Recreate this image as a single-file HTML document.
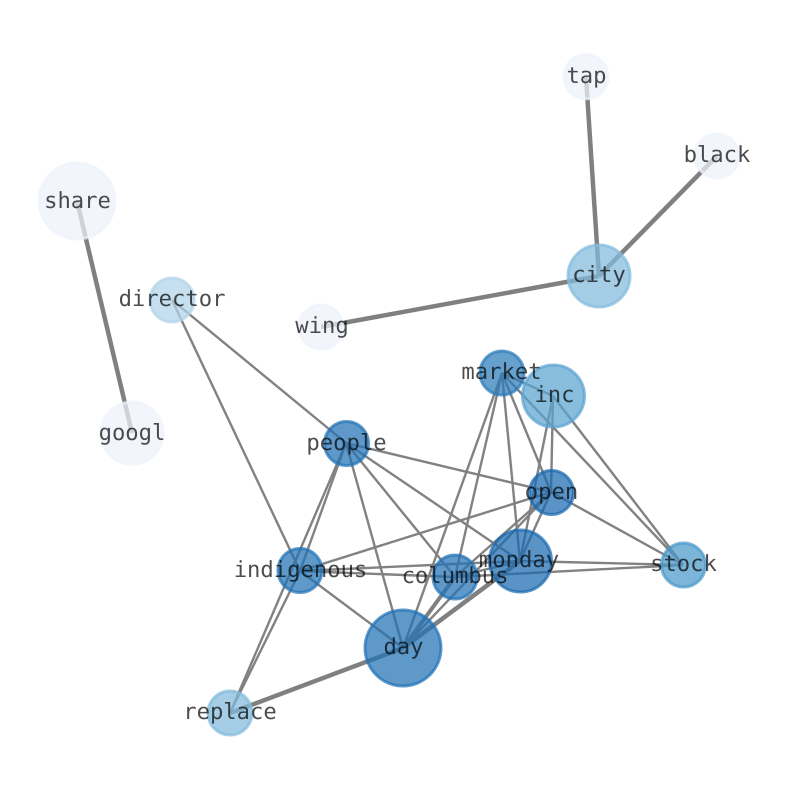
<!DOCTYPE html>
<html><head><meta charset="utf-8"><style>
html,body{margin:0;padding:0;background:#fff}
svg{display:block}
text{font-family:"DejaVu Sans Mono","Liberation Mono",monospace;font-size:22.2px;text-anchor:middle;fill:#000;fill-opacity:.7;text-rendering:geometricPrecision}
line{stroke:#808080;stroke-linecap:butt}
.t{stroke-width:2.4;stroke-opacity:.98}
circle{stroke-width:3}
</style></head><body>
<svg width="794" height="790" viewBox="0 0 794 790" xmlns="http://www.w3.org/2000/svg">
<g class="edges">
<line x1="586" y1="77" x2="599" y2="276" stroke-width="4.5"/>
<line x1="717" y1="156" x2="599" y2="276" stroke-width="4.5"/>
<line x1="321" y1="327" x2="599" y2="276" stroke-width="4.5"/>
<line x1="77" y1="201" x2="132" y2="433" stroke-width="4.5"/>
<line x1="403" y1="648" x2="230" y2="713" stroke-width="4.5"/>
<line x1="403" y1="648" x2="520" y2="561" stroke-width="4.5"/>
<line x1="403" y1="648" x2="455" y2="577" stroke-width="4"/>
<g class="t">
<line class="t" x1="172" y1="300" x2="346" y2="443"/>
<line class="t" x1="172" y1="300" x2="300" y2="571"/>
<line class="t" x1="346" y1="443" x2="300" y2="571"/>
<line class="t" x1="346" y1="443" x2="230" y2="713"/>
<line class="t" x1="300" y1="571" x2="230" y2="713"/>
<line class="t" x1="346" y1="443" x2="403" y2="648"/>
<line class="t" x1="346" y1="443" x2="455" y2="577"/>
<line class="t" x1="346" y1="443" x2="520" y2="561"/>
<line class="t" x1="346" y1="443" x2="551" y2="492"/>
<line class="t" x1="300" y1="571" x2="551" y2="492"/>
<line class="t" x1="300" y1="571" x2="520" y2="561"/>
<line class="t" x1="300" y1="571" x2="455" y2="577"/>
<line class="t" x1="300" y1="571" x2="403" y2="648"/>
<line class="t" x1="502" y1="373" x2="403" y2="648"/>
<line class="t" x1="502" y1="373" x2="455" y2="577"/>
<line class="t" x1="502" y1="373" x2="520" y2="561"/>
<line class="t" x1="502" y1="373" x2="551" y2="492"/>
<line class="t" x1="502" y1="373" x2="553" y2="396"/>
<line class="t" x1="502" y1="373" x2="683" y2="565"/>
<line class="t" x1="553" y1="396" x2="520" y2="561"/>
<line class="t" x1="553" y1="396" x2="551" y2="492"/>
<line class="t" x1="553" y1="396" x2="683" y2="565"/>
<line class="t" x1="551" y1="492" x2="683" y2="565"/>
<line class="t" x1="551" y1="492" x2="520" y2="561"/>
<line class="t" x1="551" y1="492" x2="455" y2="577"/>
<line class="t" x1="551" y1="492" x2="403" y2="648"/>
<line class="t" x1="520" y1="561" x2="683" y2="565"/>
<line class="t" x1="520" y1="561" x2="455" y2="577"/>
<line class="t" x1="455" y1="577" x2="683" y2="565"/>
</g>
</g>
<g fill-opacity=".72" stroke-opacity=".72">
<circle cx="586" cy="76.700" r="22" fill="#edf3fb" stroke="#edf3fb"/>
<circle cx="717" cy="156" r="22" fill="#edf3fb" stroke="#edf3fb"/>
<circle cx="321" cy="327" r="22" fill="#edf3fb" stroke="#edf3fb"/>
<circle cx="77" cy="201" r="38" fill="#edf3fb" stroke="#edf3fb"/>
<circle cx="132" cy="433" r="31" fill="#edf3fb" stroke="#edf3fb"/>
<circle cx="172" cy="300" r="22" fill="#b2d4e9" stroke="#b2d4e9"/>
<circle cx="230" cy="713" r="22" fill="#82bbdc" stroke="#82bbdc"/>
<circle cx="599" cy="276" r="31" fill="#82bbdc" stroke="#82bbdc"/>
<circle cx="553.500" cy="396" r="31" fill="#5aa3d0" stroke="#5aa3d0"/>
<circle cx="683.500" cy="565" r="22" fill="#4a98c9" stroke="#4a98c9"/>
<circle cx="502" cy="373" r="22" fill="#2b7bba" stroke="#2b7bba"/>
<circle cx="346.500" cy="443.500" r="22" fill="#2171b5" stroke="#2171b5"/>
<circle cx="300" cy="570.500" r="22" fill="#2171b5" stroke="#2171b5"/>
<circle cx="455" cy="577" r="22" fill="#2171b5" stroke="#2171b5"/>
<circle cx="551.500" cy="492.500" r="22" fill="#1b69af" stroke="#1b69af"/>
<circle cx="520.500" cy="561" r="31" fill="#1b69af" stroke="#1b69af"/>
<circle cx="403" cy="648" r="38" fill="#2171b5" stroke="#2171b5"/>
</g>
<g>
<text x="586.500" y="83">tap</text>
<text x="717" y="162">black</text>
<text x="599" y="282">city</text>
<text x="322" y="333">wing</text>
<text x="77.500" y="208">share</text>
<text x="132" y="440">googl</text>
<text x="172" y="306">director</text>
<text x="346.500" y="450">people</text>
<text x="300.500" y="577">indigenous</text>
<text x="455" y="583">columbus</text>
<text x="501.500" y="379">market</text>
<text x="554.500" y="402">inc</text>
<text x="551.500" y="499">open</text>
<text x="519" y="567">monday</text>
<text x="683.500" y="571">stock</text>
<text x="403.500" y="654">day</text>
<text x="230" y="719">replace</text>
</g>
</svg>
</body></html>
